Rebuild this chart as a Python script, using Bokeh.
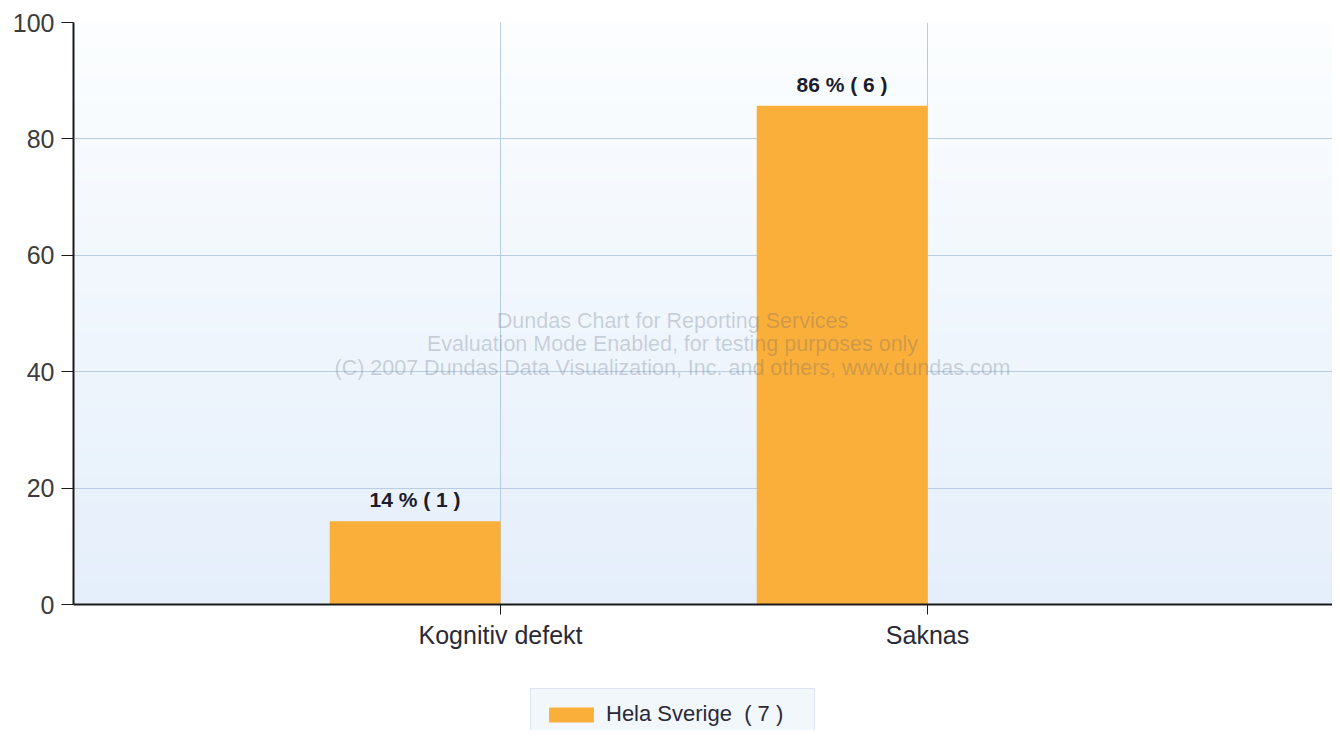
import numpy as np
from bokeh.plotting import figure
from bokeh.layouts import column
from bokeh.models import FixedTicker, Legend, LegendItem, Range1d, Label, ColumnDataSource
from bokeh.core.properties import value
from bokeh.embed import file_html
from bokeh.resources import INLINE

# ---- data ----
categories = ["Kognitiv defekt", "Saknas"]
percent = [14.29, 85.71]
counts = [1, 6]
series_name = "Hela Sverige"
series_total = 7
y_ticks = [0, 20, 40, 60, 80, 100]

cat_pos = [i + 1 for i in range(len(categories))]
bar_w = 0.4
bar_x = [c - bar_w / 2 for c in cat_pos]
bar_labels = [f"{round(pc)} % ( {n} )" for pc, n in zip(percent, counts)]

src = ColumnDataSource(dict(x=bar_x, top=percent, label=bar_labels))

FONT = "Liberation Sans"
BAR_COLOR = "#FAAF3B"
UNIT = 427.0
W = 1332
x_end = (W - 73) / UNIT

p = figure(width=W, height=654, output_backend="svg", toolbar_location=None,
           x_range=Range1d(0, x_end), y_range=Range1d(0, 100),
           min_border_left=73, min_border_right=0, min_border_top=22, min_border_bottom=50)
p.background_fill_color = "white"
p.border_fill_color = "white"
p.outline_line_color = None

# gradient background of the plot area
H = 200
img = np.empty((H, 2), dtype=np.uint32)
view = img.view(dtype=np.uint8).reshape((H, 2, 4))
bottom_c = np.array([229, 239, 251])
top_c = np.array([252, 254, 255])
for i in range(H):
    t = i / (H - 1)
    c = bottom_c * (1 - t) + top_c * t
    view[i, :, 0] = int(c[0]); view[i, :, 1] = int(c[1]); view[i, :, 2] = int(c[2]); view[i, :, 3] = 255
p.image_rgba(image=[img], x=0, y=0, dw=x_end, dh=100, level="image")

# bars
bars = p.vbar(x="x", top="top", width=bar_w, bottom=0, source=src,
              fill_color=BAR_COLOR, line_color=None)

# bar labels
p.text(x="x", y="top", text="label", source=src, text_align="center", text_baseline="bottom",
       y_offset=-10, text_font=value(FONT), text_font_size="21px", text_font_style="bold",
       text_color="#1c1c2c")

# watermark
wm_lines = ["Dundas Chart for Reporting Services",
            "Evaluation Mode Enabled, for testing purposes only",
            "(C) 2007 Dundas Data Visualization, Inc. and others, www.dundas.com"]
for k, line in enumerate(wm_lines):
    p.add_layout(Label(x=(672 - 73) / UNIT, y=(604 - (320 + 23.5 * k)) / 582 * 100, text=line,
                       text_align="center", text_baseline="middle", text_font=FONT,
                       text_font_size="21.5px", text_color="#4a5670", text_alpha=0.25))

# axes
p.xaxis.ticker = FixedTicker(ticks=cat_pos)
p.xaxis.major_label_overrides = {c: n for c, n in zip(cat_pos, categories)}
p.yaxis.ticker = FixedTicker(ticks=y_ticks)
for ax in (p.xaxis[0], p.yaxis[0]):
    ax.axis_line_color = "#1a1a1a"
    ax.axis_line_width = 2
    ax.major_tick_line_color = "#1a1a1a"
    ax.major_tick_line_width = 1
    ax.major_tick_in = 0
    ax.minor_tick_line_color = None
    ax.major_label_text_font = FONT
    ax.major_label_text_font_size = "25px"
p.xaxis.major_tick_out = 10
p.yaxis.major_tick_out = 12
p.xaxis.major_label_standoff = 6
p.yaxis.major_label_standoff = 7
p.xaxis.major_label_text_color = "#2a2a36"
p.yaxis.major_label_text_color = "#3c3c3c"

p.xgrid.ticker = FixedTicker(ticks=cat_pos)
p.ygrid.ticker = FixedTicker(ticks=y_ticks)
p.grid.grid_line_color = "#b8cce4"
p.grid.grid_line_width = 1

# ---- legend strip below the chart ----
q = figure(width=W, height=76, output_backend="svg", toolbar_location=None,
           x_axis_type=None, y_axis_type=None, x_range=Range1d(-3, -2), y_range=Range1d(-3, -2),
           min_border=0, min_border_left=0, min_border_right=0, min_border_top=0, min_border_bottom=0)
q.outline_line_color = None
q.grid.visible = False
q.background_fill_color = "white"
q.border_fill_color = "white"
# proxy renderer (outside the visible range) so the legend shows the series swatch
legend_bar = q.vbar(x="x", top="top", width=bar_w, bottom=0, source=src,
                    fill_color=BAR_COLOR, line_color=None)

legend = Legend(items=[LegendItem(label=f"{series_name}  ( {series_total} )", renderers=[legend_bar])],
                location=(457, -10), margin=0, padding=12, glyph_width=56, glyph_height=19,
                label_standoff=7, label_width=196, label_text_font=FONT,
                label_text_font_size="22px", label_text_color="#2a2a36",
                background_fill_color="#f2f7fc", background_fill_alpha=1.0,
                border_line_color="#c5d3e3", border_line_width=1)
q.add_layout(legend)

layout = column(p, q, spacing=0)
open("out.html", "w").write(file_html(layout, INLINE))
